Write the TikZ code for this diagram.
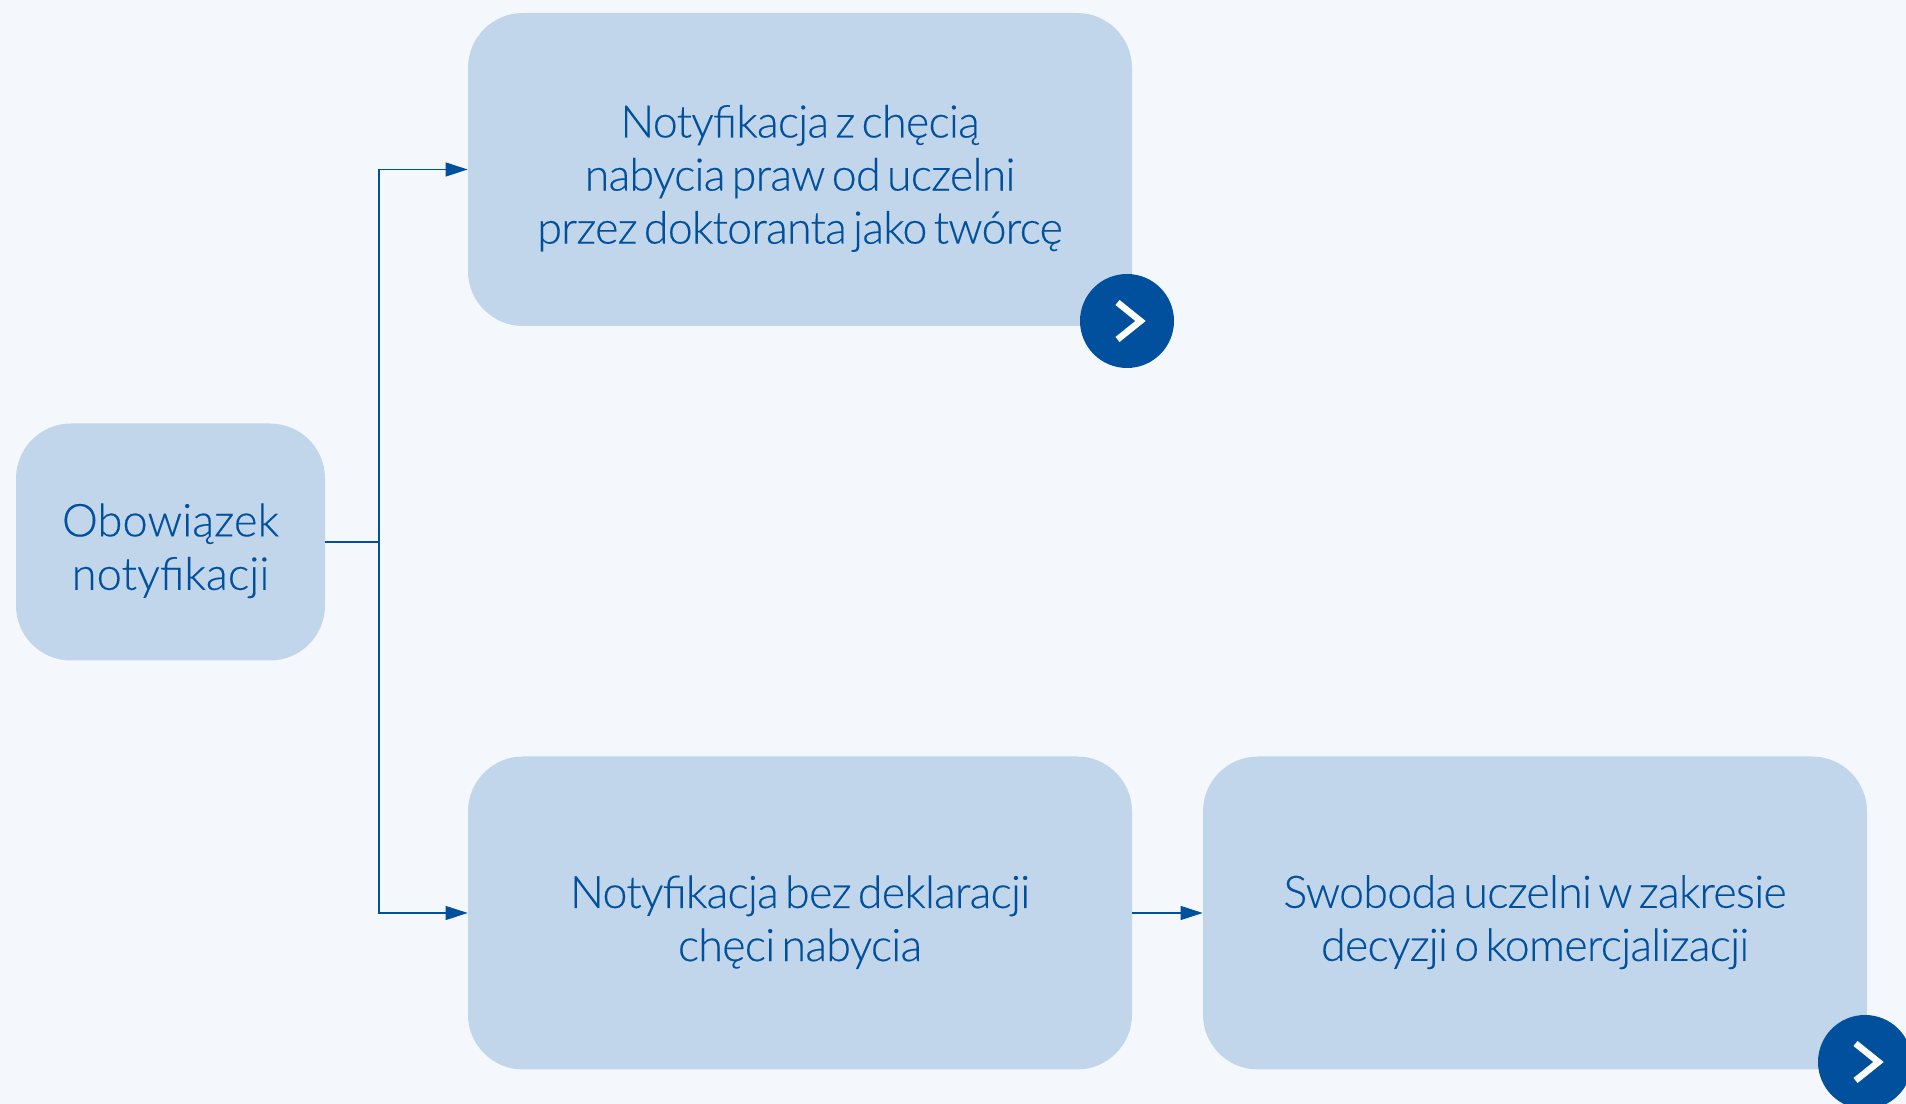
\documentclass[tikz,border=0pt]{standalone}
\usepackage{fontspec}
\setmainfont{Lato Light}[BoldFont=Lato,FakeBold=0.3]
\newfontfamily\tightfont{Lato Light}[LetterSpace=-1.7,WordSpace=0.55,FakeBold=0.3]
\usetikzlibrary{arrows.meta}
\definecolor{pagebg}{HTML}{F4F8FC}
\definecolor{boxfill}{HTML}{C1D5EB}
\definecolor{darkblue}{HTML}{00509E}
\tikzset{
    box/.style={fill=boxfill, rounded corners=1.1cm, inner sep=0pt, align=center, text=darkblue, text height=2.08cm, font=\tightfont\fontsize{25.5}{30.2}\selectfont},
    firstbox/.style={box, font=\fontsize{25.8}{30.4}\selectfont},
    threelines/.style={text height=3.13cm},
    link/.style={draw=darkblue, line width=0.7pt, -{Triangle[length=0.44cm,width=0.28cm]}},
    stem/.style={draw=darkblue, line width=0.7pt},
    badge/.style={circle, fill=darkblue, minimum size=1.88cm, inner sep=0pt},
    chevron/.style={draw=white, line width=0.13cm, miter limit=10},
}
\begin{document}
\begin{tikzpicture}
    \useasboundingbox[fill=pagebg] (0,0) rectangle (38.12,22.08);

    \node (duty)[firstbox, minimum width=6.18cm, minimum height=4.74cm] at (3.41,11.24) {Obowiązek\\notyfikacji};
    \node (wish)[box, threelines, minimum width=13.28cm, minimum height=6.26cm] at (16,18.69) {Notyfikacja z chęcią\\nabycia praw od uczelni\\przez doktoranta jako twórcę};
    \node (nowish)[box, minimum width=13.28cm, minimum height=6.26cm] at (16,3.82) {Notyfikacja bez deklaracji\\chęci nabycia};
    \node (free)[box, minimum width=13.28cm, minimum height=6.26cm] at (30.70,3.82) {Swoboda uczelni w zakresie\\decyzji o komercjalizacji};

    \node (badgea)[badge] at (22.54,15.66) {};
    \node (badgeb)[badge] at (37.30,0.84) {};

    \coordinate (fork) at (7.58,11.24);

    \draw[stem] (duty.east) -- (fork);
    \draw[link] (fork) |- (wish.west);
    \draw[link] (fork) |- (nowish.west);
    \draw[link] (nowish.east) -- (free.west);

    \foreach \b in {badgea, badgeb} {
        \draw[chevron] ([shift={(-0.19,0.37)}]\b.center) -- ([shift={(0.27,0)}]\b.center) -- ([shift={(-0.19,-0.37)}]\b.center);
    }
\end{tikzpicture}
\end{document}
